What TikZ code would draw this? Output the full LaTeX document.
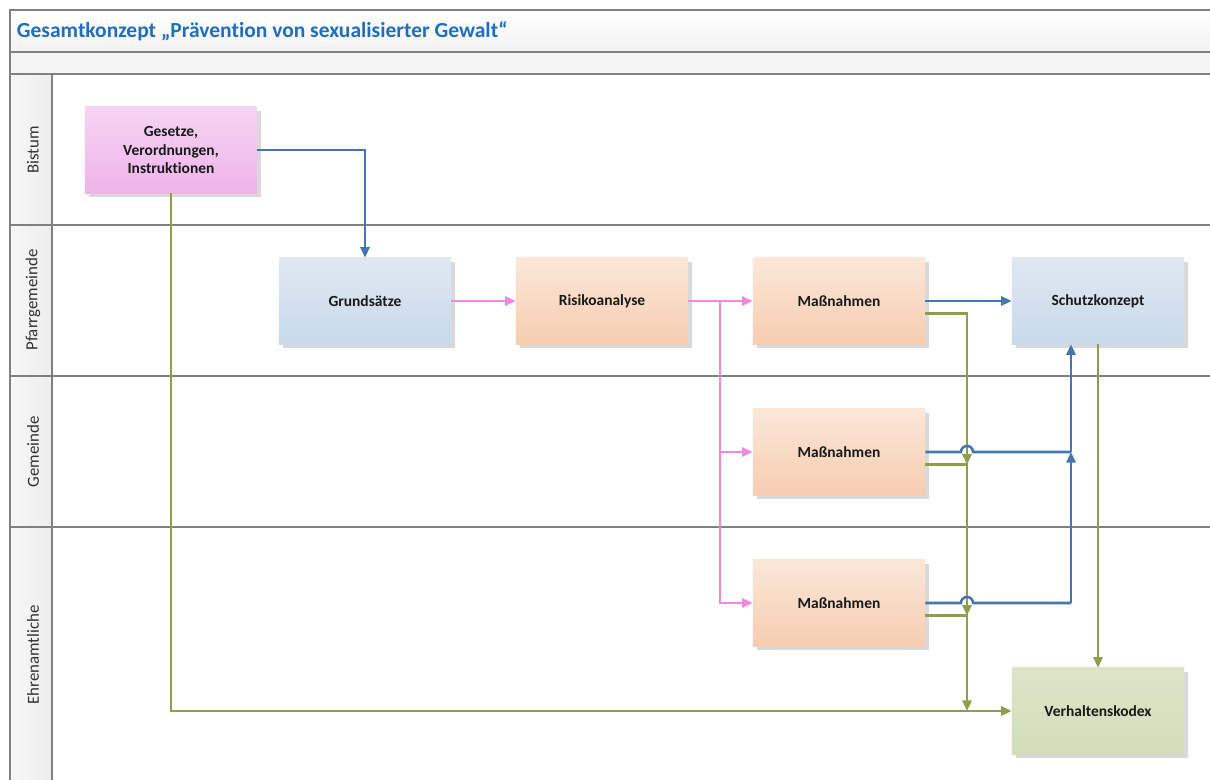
\documentclass[tikz,border=0pt]{standalone}
\usepackage{fontspec}
\setmainfont{Carlito}[Ligatures=NoCommon]
\usepackage{tikz}
\usetikzlibrary{arrows.meta,shadows}

\definecolor{lineblue}{HTML}{4676AE}
\definecolor{linepink}{HTML}{EE88E0}
\definecolor{linegreen}{HTML}{8E9E4A}
\definecolor{titleblue}{HTML}{1F6FBF}
\definecolor{lanegray}{HTML}{808080}

\begin{document}
\begin{tikzpicture}[x=0.025cm,y=-0.025cm,
    box/.style={minimum width=4.3cm, minimum height=2.15cm, inner sep=0pt,
        font=\fontsize{11}{13.5}\selectfont\bfseries, text=black!90, align=center,
        drop shadow={shadow xshift=3pt, shadow yshift=-3pt, fill=black!15, opacity=1}},
    pinkbox/.style={box, top color={rgb,255:red,246;green,212;blue,243}, bottom color={rgb,255:red,239;green,179;blue,232}},
    bluebox/.style={box, top color={rgb,255:red,223;green,232;blue,241}, bottom color={rgb,255:red,200;green,218;blue,236}},
    peachbox/.style={box, top color={rgb,255:red,251;green,231;blue,217}, bottom color={rgb,255:red,246;green,205;blue,176}},
    greenbox/.style={box, top color={rgb,255:red,221;green,228;blue,201}, bottom color={rgb,255:red,211;green,221;blue,185}},
    conn/.style={line width=1.8pt, -{Triangle[length=7.5pt,width=6.5pt]}},
    hop/.style={line width=1.8pt},
    lane/.style={rotate=90, font=\fontsize{12}{14}\selectfont, text=black!80}]

    \useasboundingbox (0,0) rectangle (1210,780);
    \fill[white] (0,0) rectangle (1210,780);

    % frame and lanes
    \shade[top color=white, bottom color=black!5] (10,10) rectangle (1210,52);
    \fill[black!4] (10,52) rectangle (1210,74);
    \shade[left color=black!3, right color=black!7] (10,74) rectangle (52,780);
    \draw[lanegray, line width=1pt] (1210,10) -- (10,10) -- (10,780);
    \draw[lanegray, line width=1pt] (10,52) -- (1210,52);
    \draw[lanegray, line width=1pt] (10,74) -- (1210,74);
    \draw[lanegray, line width=1pt] (52,74) -- (52,780);
    \foreach \y in {225,376,527}
        \draw[lanegray, line width=1pt] (10,\y) -- (1210,\y);

    \node[anchor=west, text=titleblue, font=\fontsize{15.3}{18}\selectfont\bfseries] (title) at (12,31)
        {Gesamtkonzept „Prävention von sexualisierter Gewalt“};

    \node[lane] (bistum) at (33,150) {Bistum};
    \node[lane] (pfarr) at (33,300) {Pfarrgemeinde};
    \node[lane] (gemeinde) at (33,452) {Gemeinde};
    \node[lane] (ehren) at (33,655) {Ehrenamtliche};

    % boxes
    \node[pinkbox] (gesetze) at (171,150) {Gesetze,\\Verordnungen,\\Instruktionen};
    \node[bluebox] (grund) at (365,301) {Grundsätze};
    \node[peachbox] (risiko) at (602,301) {Risikoanalyse};
    \node[peachbox] (mass1) at (839,301) {Maßnahmen};
    \node[bluebox] (schutz) at (1098,301) {Schutzkonzept};
    \node[peachbox] (mass2) at (839,452) {Maßnahmen};
    \node[peachbox] (mass3) at (839,603) {Maßnahmen};
    \node[greenbox] (kodex) at (1098,711) {Verhaltenskodex};

    \coordinate (pv) at (720,301);
    \coordinate (gx) at (967,301);
    \coordinate (bx) at (1071,301);
    \coordinate (g1) at ([yshift=-9pt]mass1.east);
    \coordinate (g2) at ([yshift=-9pt]mass2.east);
    \coordinate (g3) at ([yshift=-9pt]mass3.east);

    % connectors
    \draw[conn, lineblue] (gesetze.east) -| (grund.north);
    \draw[conn, linepink] (grund.east) -- (risiko.west);
    \draw[conn, linepink] (risiko.east) -- (mass1.west);
    \draw[conn, linepink] (pv) |- (mass2.west);
    \draw[conn, linepink] (pv) |- (mass3.west);
    \draw[conn, lineblue] (mass1.east) -- (schutz.west);

    \draw[conn, linegreen] (gesetze.south) |- (kodex.west);
    \draw[conn, linegreen] (schutz.south) -- (kodex.north);
    \draw[conn, linegreen] (g1) -| (gx |- g2);
    \draw[conn, linegreen] (g2) -| (gx |- g3);
    \draw[conn, linegreen] (g3) -| (gx |- kodex.west);

    \draw[hop, lineblue] (mass2.east) -- ([xshift=-4.3pt]gx |- mass2.east)
        arc[start angle=180, end angle=0, radius=4.3pt] -- (bx |- mass2.east);
    \draw[conn, lineblue] (bx |- mass2.east) -- (bx |- schutz.south);
    \draw[hop, lineblue] (mass3.east) -- ([xshift=-4.3pt]gx |- mass3.east)
        arc[start angle=180, end angle=0, radius=4.3pt] -- (bx |- mass3.east);
    \draw[conn, lineblue] (bx |- mass3.east) -- (bx |- mass2.east);
\end{tikzpicture}
\end{document}
